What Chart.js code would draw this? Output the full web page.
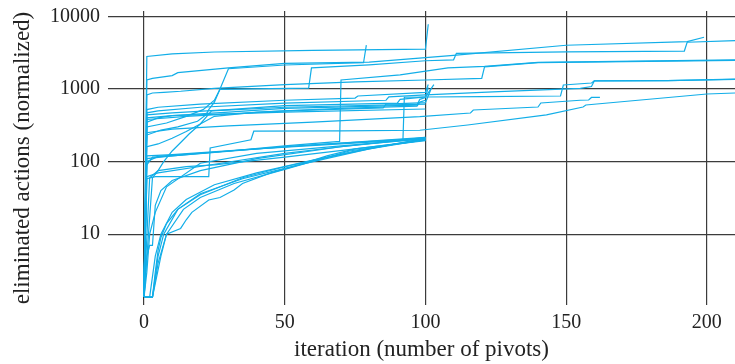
<!DOCTYPE html>
<html><head><meta charset="utf-8">
<script src="https://cdn.jsdelivr.net/npm/chart.js@4"></script>
<style>html,body{margin:0;padding:0;background:#fff}canvas{display:block}</style>
</head><body>
<canvas id="c" width="735" height="364"></canvas>
<script>
// Tick values
const xTicks = [0, 50, 100, 150, 200];
const yTicks = [10, 100, 1000, 10000];

// Runs: [iteration, eliminated actions (normalized)]
const runTop      = [[0,1.36],[1,2800],[10,3050],[25,3230],[60,3400],[100,3550],[101,7800]];
const runA        = [[0,1.36],[1,1330],[3,1400],[10,1530],[12,1680],[30,1950],[50,2250],[80,2350],[100,2700],[110,2900],[150,4000],[193,4490],[199,5160]];
const runSpike79  = [[0,1.36],[1,232],[6,272],[12,300],[19,360],[22,440],[23,520],[25,660],[27,1000],[30,1900],[50,2140],[78,2300],[79,4030]];
const runStep59   = [[0,1.36],[1,300],[8,340],[15,420],[21,520],[25,700],[27,990],[45,1010],[58.5,1030],[59.5,1950],[80,2150],[100,2450],[110,2520],[111,3100],[150,3250],[192,3330],[193,4400],[210,4630]];
const run830      = [[0,1.36],[1,830],[3,880],[7,900],[13,930],[25,1020],[50,1150],[75,1250],[100,1330],[120,1400],[121,2020],[140,2300],[210,2480]];
const runJump70   = [[0,1.36],[1,110],[10,120],[30,140],[50,165],[69.5,190],[70,1330],[91,1560],[108,1950],[121,2050],[140,2330],[210,2520]];
const runJump92   = [[0,1.36],[1,62],[5,70],[25,92],[50,130],[70,160],[92,195],[92.5,770],[100,775],[120,785],[148,800],[149,1135],[159,1210],[160,1290],[186,1300],[210,1360]];
const runMidLong  = [[0,1.36],[1,470],[5,500],[20,560],[50,640],[86,700],[87,780],[100,830],[126,918],[155,1020],[159,1080],[160,1290],[186,1305],[210,1365]];
const runTo162    = [[0,1.36],[1,250],[10,280],[30,310],[60,350],[98,415],[116,467],[117,514],[140,565],[141,641],[155,700],[158,705],[159,764],[162,764]];
const runLowLong  = [[0,1.36],[1,58],[4,62],[23,62],[23.5,154],[38,200],[39,262],[70,265],[98,270],[115,319],[143,439],[156,565],[157,602],[200,853],[210,880]];
const runM1 = [[0,1.36],[1,520],[5,560],[20,620],[50,700],[75,750],[76,800],[100,900],[101,1150]];
const runM3 = [[0,1.36],[1,440],[10,470],[30,520],[50,590],[90,640],[91,720],[100,780],[103,1150]];
const runM4 = [[0,1.36],[1,400],[10,430],[30,480],[50,540],[97,600],[98,720],[100,760],[101,1050]];
const runM5 = [[0,1.36],[1,380],[15,420],[50,500],[85,550],[86,620],[100,650],[102,1000]];
const runM6 = [[0,1.36],[1,350],[5,400],[10,430],[50,480],[100,530]];
const runU5 = [[0,1.36],[3,60],[5,75],[7,100],[10,140],[14,200],[16,240],[20,330],[25,420],[40,480],[70,540],[97,580],[98,660],[100,700]];
const runU6 = [[0,1.36],[1,160],[5,175],[10,210],[15,260],[20,330],[24,500],[50,560],[100,620]];
const runU1 = [[0,1.36],[1,90],[3,115],[10,120],[50,160],[100,215]];
const runU2 = [[0,1.36],[1,100],[5,118],[30,140],[60,170],[100,210]];
const runU3 = [[0,1.36],[2,60],[5,75],[15,85],[25,90],[50,115],[100,195]];
const runU4 = [[0,1.36],[1,120],[10,125],[40,150],[100,205]];
const runC1 = [[0,1.36],[1,3],[2,10],[4,20],[8,45],[20,95],[40,130],[70,165],[100,205]];
const runC2 = [[0,1.36],[3,1.36],[4,3],[5,6],[6,9],[8,14],[12,22],[20,35],[35,60],[50,85],[75,140],[100,205]];
const runC3 = [[0,1.36],[2,1.36],[4,5],[6,10],[10,20],[15,30],[25,48],[40,70],[60,105],[80,150],[100,210]];
const runC4 = [[0,1.36],[3,1.36],[5,5],[7,10],[12,22],[20,36],[35,58],[55,90],[80,150],[100,200]];
const runC5 = [[0,1.36],[3,1.36],[5,4],[8,10],[14,22],[20,32],[32,50],[50,78],[73,140],[100,200]];
const runC6 = [[0,1.36],[3,1.36],[6,5],[8,10],[13,12],[15,15.8],[17,20],[23,29.6],[27,32],[32,40.6],[35,50],[45,70],[55,90],[65,120],[75,150],[100,198]];
const runC7 = [[0,1.36],[1,5],[2,7],[3,7],[4,25],[6,40],[10,55],[20,75],[40,110],[70,160],[100,215]];

const runs = [runTop, runA, runSpike79, runStep59, run830, runJump70, runJump92, runMidLong, runTo162, runLowLong,
  runM1, runM3, runM4, runM5, runM6, runU5, runU6, runU1, runU2, runU3, runU4,
  runC1, runC2, runC3, runC4, runC5, runC6, runC7];

const LINE = '#12aee8';
const GRID = '#3c3c3c';
const FONT = 'Liberation Serif';

new Chart(document.getElementById('c'), {
  type: 'line',
  data: {
    datasets: runs.map(r => ({
      data: r.map(p => ({x: p[0], y: p[1]})),
      borderColor: LINE, borderWidth: 1.2, pointRadius: 0, fill: false, tension: 0
    }))
  },
  options: {
    responsive: false, animation: false, events: [],
    layout: {padding: {top: 11, right: 0, bottom: 0, left: 0}},
    plugins: {legend: {display: false}, tooltip: {enabled: false}},
    scales: {
      x: {
        type: 'linear', min: -12.8, max: 210,
        afterBuildTicks: s => { s.ticks = xTicks.map(v => ({value: v})); },
        afterFit: s => { s.height = 59; s.paddingLeft = 0; s.paddingRight = 0; },
        grid: {color: GRID, lineWidth: 1.2, drawTicks: false},
        border: {display: false},
        ticks: {color: '#222', font: {family: FONT, size: 20}, padding: 6, maxRotation: 0, callback: v => String(v)},
        title: {display: true, text: 'iteration (number of pivots)', color: '#222', font: {family: FONT, size: 23, lineHeight: 1.2}, padding: {top: 0, bottom: 0}}
      },
      y: {
        type: 'logarithmic', min: 1.059, max: 11860,
        afterBuildTicks: s => { s.ticks = yTicks.map(v => ({value: v})); },
        afterFit: s => { s.width = 108; s.paddingTop = 0; s.paddingBottom = 0; },
        grid: {color: GRID, lineWidth: 1.2, drawTicks: false},
        border: {display: false},
        ticks: {color: '#222', font: {family: FONT, size: 20}, padding: 8, callback: v => String(v)},
        title: {display: true, text: 'eliminated actions (normalized)', color: '#222', font: {family: FONT, size: 23, lineHeight: 1.2}, padding: {top: 9, bottom: 0}}
      }
    }
  }
});
</script>
</body></html>
